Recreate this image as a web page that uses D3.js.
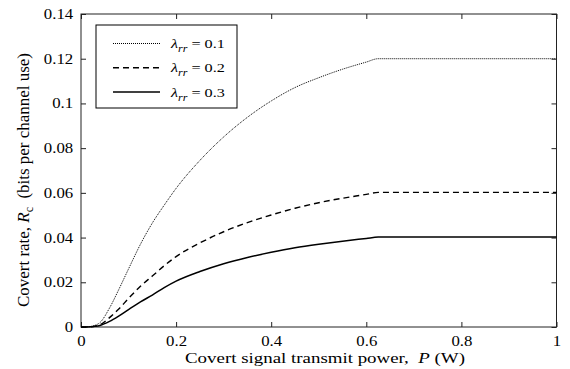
<!DOCTYPE html>
<html>
<head>
<meta charset="utf-8">
<script src="https://cdn.jsdelivr.net/npm/d3@7"></script>
<style>
  html, body { margin: 0; padding: 0; background: #fff; }
</style>
</head>
<body>
<div id="chart"></div>
<script>
// Covert signal transmit power P (W)
const power = [0, 0.02, 0.03, 0.04, 0.06, 0.08, 0.1, 0.125, 0.15, 0.175, 0.2, 0.25, 0.3, 0.35, 0.4, 0.45, 0.5, 0.55, 0.6, 0.625, 0.7, 0.8, 0.9, 1];
// Covert rate for each lambda_rr
const rate01 = [0, 0.0002, 0.0008, 0.002, 0.0085, 0.017, 0.026, 0.037, 0.0465, 0.0545, 0.062, 0.0745, 0.085, 0.0938, 0.1011, 0.1071, 0.1115, 0.1153, 0.1185, 0.120, 0.120, 0.120, 0.120, 0.120];
const rate02 = [0, 0.0001, 0.0004, 0.001, 0.0042, 0.0082, 0.0128, 0.0182, 0.0228, 0.0274, 0.0315, 0.0376, 0.0426, 0.0467, 0.0501, 0.0531, 0.0556, 0.0576, 0.0593, 0.0602, 0.0602, 0.0602, 0.0602, 0.0602];
const rate03 = [0, 0.0001, 0.0003, 0.0007, 0.0025, 0.005, 0.0078, 0.0112, 0.0143, 0.0176, 0.0205, 0.0248, 0.0283, 0.0311, 0.0334, 0.0354, 0.037, 0.0384, 0.0396, 0.0402, 0.0402, 0.0402, 0.0402, 0.0402];
const lambdas = ['0.1', '0.2', '0.3'];
const xTicks = [0, 0.2, 0.4, 0.6, 0.8, 1];
const yTicks = [0, 0.02, 0.04, 0.06, 0.08, 0.1, 0.12, 0.14];

const W = 570, H = 369;
const margin = { top: 14, right: 13.5, bottom: 42, left: 81 };
const width = W - margin.left - margin.right;
const height = H - margin.top - margin.bottom;
const stretch = 1.2; // glyphs in the picture are a bit wide
const serif = 'Liberation Serif';

const svg = d3.select('#chart').append('svg')
  .attr('width', W).attr('height', H)
  .attr('font-family', serif);
const g = svg.append('g')
  .attr('transform', `translate(${margin.left},${margin.top})`);

const x = d3.scaleLinear().domain([0, 1]).range([0, width]);
const y = d3.scaleLinear().domain([0, 0.14]).range([height, 0]);

const fmt = d => d === 0 ? '0' : String(+d.toFixed(2));

// bottom axis
g.append('g')
  .attr('transform', `translate(0,${height})`)
  .call(d3.axisBottom(x).tickValues(xTicks).tickFormat(fmt).tickSizeInner(-5).tickSizeOuter(0))
  .call(a => a.attr('font-family', serif).attr('font-size', 14))
  .call(a => a.select('.domain').remove())
  .call(a => a.selectAll('line').attr('stroke', '#222'))
  .call(a => a.selectAll('text')
    .attr('y', 9).attr('dy', '0.71em')
    .attr('fill', '#000')
    .attr('transform', `scale(${stretch},1)`));

// left axis
g.append('g')
  .call(d3.axisLeft(y).tickValues(yTicks).tickFormat(fmt).tickSizeInner(-5).tickSizeOuter(0))
  .call(a => a.attr('font-family', serif).attr('font-size', 14))
  .call(a => a.select('.domain').remove())
  .call(a => a.selectAll('line').attr('stroke', '#222'))
  .call(a => a.selectAll('text')
    .attr('x', -6.5)
    .attr('fill', '#000')
    .attr('transform', `scale(${stretch},1)`));

// top and right ticks (inward)
g.append('g')
  .call(d3.axisTop(x).tickValues(xTicks).tickFormat('').tickSizeInner(-5).tickSizeOuter(0))
  .call(a => a.select('.domain').remove())
  .call(a => a.selectAll('line').attr('stroke', '#222'));
g.append('g')
  .attr('transform', `translate(${width},0)`)
  .call(d3.axisRight(y).tickValues(yTicks).tickFormat('').tickSizeInner(-5).tickSizeOuter(0))
  .call(a => a.select('.domain').remove())
  .call(a => a.selectAll('line').attr('stroke', '#222'));

// box
g.append('rect')
  .attr('width', width).attr('height', height)
  .attr('fill', 'none').attr('stroke', '#222').attr('stroke-width', 1);

const series = [
  { values: rate01, dash: '1,1', w: 1 },
  { values: rate02, dash: '6,4', w: 1.4 },
  { values: rate03, dash: null, w: 1.5 }
];

const line = d3.line()
  .x(d => x(d[0]))
  .y(d => y(d[1]))
  .curve(d3.curveMonotoneX);

series.forEach(s => {
  g.append('path')
    .datum(power.map((p, i) => [p, s.values[i]]))
    .attr('fill', 'none')
    .attr('stroke', '#000')
    .attr('stroke-width', s.w)
    .attr('stroke-dasharray', s.dash)
    .attr('d', line);
});

// legend
const legend = svg.append('g').attr('transform', 'translate(96,25)');
legend.append('rect')
  .attr('width', 141).attr('height', 83)
  .attr('fill', '#fff').attr('stroke', '#000').attr('stroke-width', 1);
series.forEach((s, i) => {
  const ry = 18.5 + i * 24.3;
  legend.append('line')
    .attr('x1', 17).attr('x2', 64).attr('y1', ry).attr('y2', ry)
    .attr('stroke', '#000')
    .attr('stroke-width', s.w)
    .attr('stroke-dasharray', s.dash);
  const t = legend.append('text')
    .attr('transform', `translate(75,${ry + 4.5}) scale(${stretch},1)`)
    .attr('font-family', serif)
    .attr('font-size', 13.5)
    .attr('xml:space', 'preserve');
  t.append('tspan').attr('font-style', 'italic').text('λ');
  t.append('tspan').attr('font-style', 'italic').attr('font-size', 10).attr('dy', 4).text('rr');
  t.append('tspan').attr('dy', -4).text(' = ' + lambdas[i]);
});

// y axis title
const yl = svg.append('text')
  .attr('transform', 'translate(29,307) rotate(-90)')
  .attr('textLength', 254)
  .attr('lengthAdjust', 'spacingAndGlyphs')
  .attr('xml:space', 'preserve')
  .attr('font-family', serif)
  .attr('font-size', 17);
yl.append('tspan').text('Covert rate, ');
yl.append('tspan').attr('font-style', 'italic').text('R');
yl.append('tspan').attr('font-size', 12).attr('dy', 4).text('c');
yl.append('tspan').attr('dy', -4).text('  (bits per channel use)');

// x axis title
const xl = svg.append('text')
  .attr('x', 185).attr('y', 363)
  .attr('textLength', 280)
  .attr('lengthAdjust', 'spacingAndGlyphs')
  .attr('xml:space', 'preserve')
  .attr('font-family', serif)
  .attr('font-size', 15);
xl.append('tspan').text('Covert signal transmit power,  ');
xl.append('tspan').attr('font-style', 'italic').text('P');
xl.append('tspan').text(' (W)');
</script>
</body>
</html>
